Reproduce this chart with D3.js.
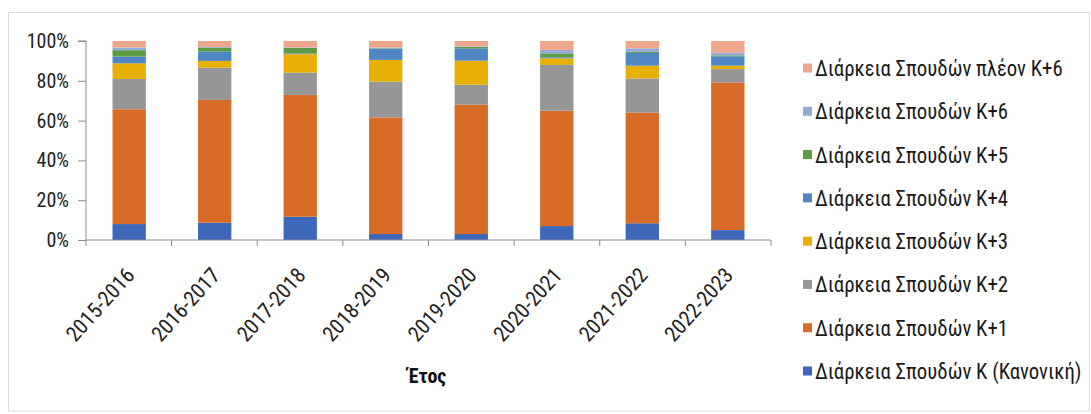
<!DOCTYPE html>
<html>
<head>
<meta charset="utf-8">
<script src="https://cdn.jsdelivr.net/npm/d3@7"></script>
<style>
  html, body { margin: 0; padding: 0; background: #fff; }
  svg text { font-family: "Liberation Sans Narrow", "Arial Narrow", "Roboto Condensed", "DejaVu Sans Condensed", "Liberation Sans", sans-serif; }
</style>
</head>
<body>
<svg id="chart" width="1091" height="414"></svg>
<script>
const years = ["2015-2016","2016-2017","2017-2018","2018-2019","2019-2020","2020-2021","2021-2022","2022-2023"];
const seriesNames = [
  "Διάρκεια Σπουδών K (Κανονική)",
  "Διάρκεια Σπουδών K+1",
  "Διάρκεια Σπουδών K+2",
  "Διάρκεια Σπουδών K+3",
  "Διάρκεια Σπουδών K+4",
  "Διάρκεια Σπουδών K+5",
  "Διάρκεια Σπουδών K+6",
  "Διάρκεια Σπουδών πλέον K+6"
];
const sK  = [8.0, 8.7, 11.7, 3.0, 3.0, 7.0, 8.4, 5.0];
const sK1 = [57.7, 61.7, 61.2, 58.6, 65.0, 58.0, 55.6, 74.2];
const sK2 = [15.2, 16.2, 11.2, 18.0, 10.0, 23.0, 17.2, 6.7];
const sK3 = [7.9, 3.4, 9.3, 10.9, 12.1, 3.3, 6.4, 1.7];
const sK4 = [3.4, 4.7, 0.3, 5.5, 6.1, 0.5, 6.4, 4.7];
const sK5 = [3.2, 2.0, 2.8, 0.3, 0.8, 2.0, 0.6, 0.5];
const sK6 = [1.3, 0.3, 0.2, 0.4, 0.3, 1.7, 1.7, 1.3];
const sP6 = [3.3, 3.0, 3.3, 3.3, 2.7, 4.5, 3.7, 5.9];
const yTicks = [0, 20, 40, 60, 80, 100];
const xTitle = "Έτος";

const colors = ["#3d67b9", "#d86b27", "#969696", "#e8b005", "#4f87c5", "#5c9a45", "#93a9d8", "#efa78c"];
const allSeries = [sK, sK1, sK2, sK3, sK4, sK5, sK6, sP6];

const rows = years.map((y, i) => {
  const r = { year: y };
  seriesNames.forEach((n, j) => r[n] = allSeries[j][i]);
  return r;
});

const svg = d3.select("#chart");

// outer frame
svg.append("rect")
  .attr("x", 8.5).attr("y", 12.5).attr("width", 1081).attr("height", 398.5)
  .attr("fill", "none").attr("stroke", "#d9d9d9").attr("stroke-width", 1);

const plot = { left: 86, right: 771, top: 41, bottom: 240 };

const x = d3.scaleBand().domain(years).range([plot.left, plot.right]).paddingInner(0.61).paddingOuter(0.31);
const xBoundaries = d3.scaleBand().domain(years).range([plot.left, plot.right]);
const y = d3.scaleLinear().domain([0, 100]).range([plot.bottom, plot.top]);

const stack = d3.stack().keys(seriesNames);
const stacked = stack(rows);

const g = svg.append("g");
g.selectAll("g.series")
  .data(stacked)
  .join("g")
  .attr("class", "series")
  .attr("fill", (d, i) => colors[i])
  .selectAll("rect")
  .data(d => d)
  .join("rect")
  .attr("x", d => x(d.data.year))
  .attr("width", x.bandwidth())
  .attr("y", d => y(d[1]))
  .attr("height", d => Math.max(0, y(d[0]) - y(d[1])));

const axisColor = "#8a8a8a";

// Y axis
const yAxis = d3.axisLeft(y).tickValues(yTicks).tickFormat(d => d + "%").tickSize(8).tickPadding(9);
const yg = svg.append("g").attr("transform", `translate(${plot.left},0)`).call(yAxis);
yg.select(".domain").attr("stroke", axisColor).attr("d", `M-8,${plot.top}H0V${plot.bottom}`);
yg.selectAll(".tick line").attr("stroke", axisColor);
yg.selectAll(".tick text").attr("fill", "#222").style("font-size", "20px");

// X axis
const xAxis = d3.axisBottom(xBoundaries).tickSize(0).tickFormat(() => "");
const xg = svg.append("g").attr("transform", `translate(0,${plot.bottom})`).call(xAxis);
xg.select(".domain").attr("stroke", axisColor).attr("d", `M${plot.left},0H${plot.right}`);
xg.selectAll(".tick").remove();
// boundary ticks
const bounds = years.map(d => xBoundaries(d)).concat([plot.right]);
xg.selectAll("line.bt").data(bounds).join("line")
  .attr("class", "bt")
  .attr("x1", d => d).attr("x2", d => d)
  .attr("y1", 0).attr("y2", 6)
  .attr("stroke", axisColor);

// x labels
svg.append("g").selectAll("text").data(years).join("text")
  .attr("transform", d => `translate(${x(d) + x.bandwidth() / 2 + 1},${plot.bottom + 31}) rotate(-48)`)
  .attr("text-anchor", "end")
  .attr("dy", "0.35em")
  .attr("fill", "#222")
  .style("font-size", "21.5px")
  .text(d => d);

// x title
svg.append("text")
  .attr("x", 427).attr("y", 383)
  .attr("text-anchor", "middle")
  .attr("fill", "#111")
  .style("font-size", "20px")
  .style("font-weight", "bold")
  .text(xTitle);

// legend (reverse order)
const legendOrder = seriesNames.map((n, i) => ({ n, c: colors[i] })).reverse();
const lg = svg.append("g");
const ly = d3.scalePoint().domain(legendOrder.map(d => d.n)).range([68, 371]);
const item = lg.selectAll("g").data(legendOrder).join("g")
  .attr("transform", d => `translate(803,${ly(d.n)})`);
item.append("rect").attr("x", 0).attr("y", -4.5).attr("width", 9).attr("height", 9).attr("fill", d => d.c);
item.append("text")
  .attr("transform", "translate(12,0) scale(0.945,1)")
  .attr("dy", "0.36em")
  .attr("fill", "#1a1a1a")
  .style("font-size", "22px")
  .text(d => d.n);
</script>
</body>
</html>
